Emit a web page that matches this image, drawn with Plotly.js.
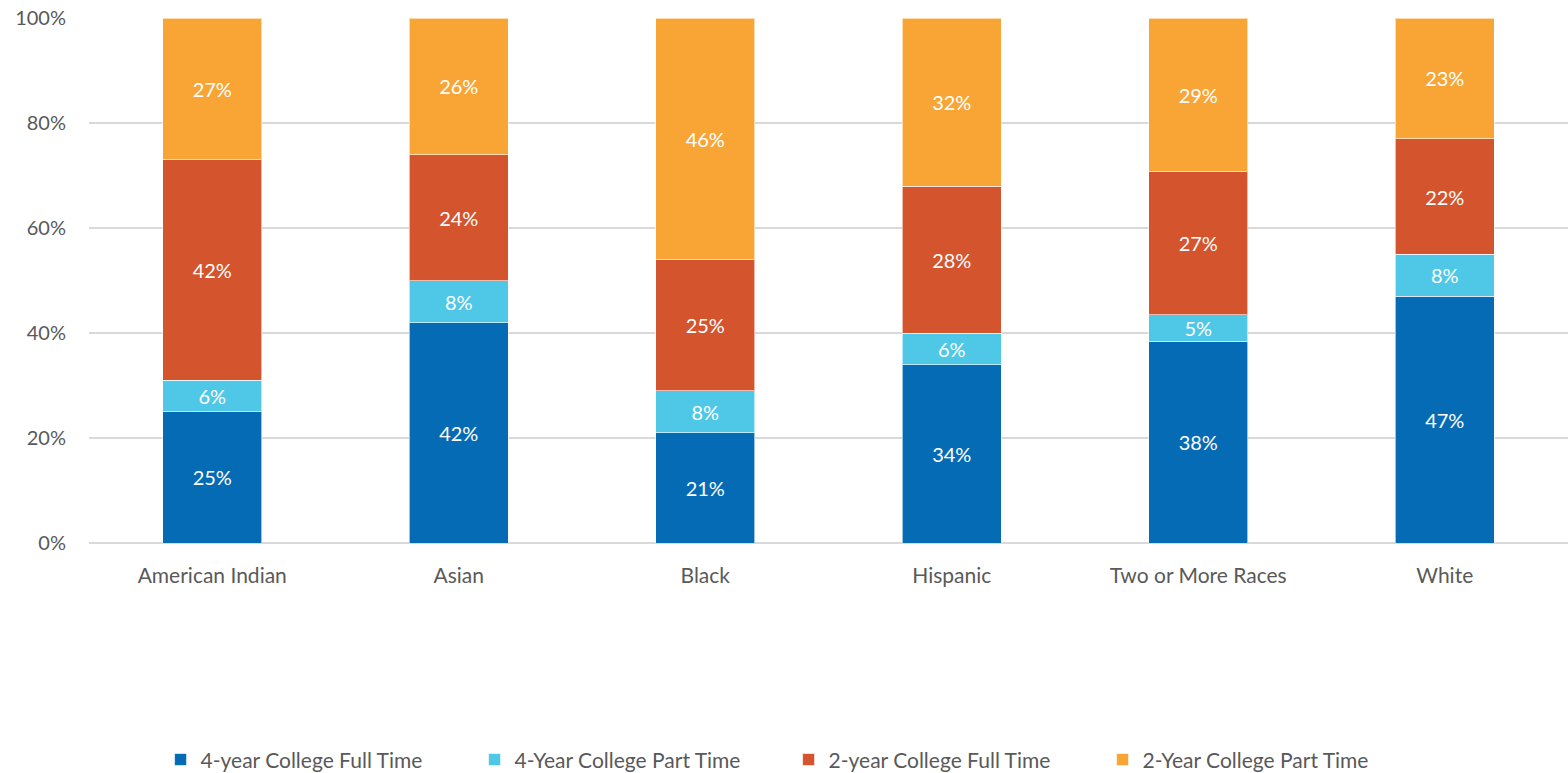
<!DOCTYPE html>
<html>
<head>
<meta charset="utf-8">
<script src="https://cdn.plot.ly/plotly-3.0.1.min.js"></script>
<style>
  html, body { margin: 0; padding: 0; background: #fff; }
  #chart { width: 1568px; height: 773px; }
</style>
</head>
<body>
<div id="chart"></div>
<script>
// Enrollment mix by race/ethnicity (percent of each group)
const groups = ["American Indian", "Asian", "Black", "Hispanic", "Two or More Races", "White"];
const fourYearFull = [25, 42, 21, 34, 38, 47];
const fourYearPart = [6, 8, 8, 6, 5, 8];
const twoYearFull = [42, 24, 25, 28, 27, 22];
const twoYearPart = [27, 26, 46, 32, 29, 23];
const seriesNames = ["4-year College Full Time", "4-Year College Part Time", "2-year College Full Time", "2-Year College Part Time"];
const seriesColors = ["#066BB5", "#4FC8E8", "#D4542E", "#F8A536"];
const yTicks = [0, 20, 40, 60, 80, 100];

const fontFamily = "Lato, 'Open Sans', sans-serif";
const seriesValues = [fourYearFull, fourYearPart, twoYearFull, twoYearPart];

const traces = seriesValues.map((vals, i) => ({
  type: "bar",
  name: seriesNames[i],
  x: groups,
  y: vals,
  text: vals.map(v => v + "%"),
  textposition: "inside",
  insidetextanchor: "middle",
  constraintext: "none",
  textangle: 0,
  textfont: { color: "#ffffff", size: 20, family: fontFamily },
  marker: { color: seriesColors[i], line: { color: "rgba(255,255,255,0.6)", width: 1 } },
  hoverinfo: "name+y"
}));

const layout = {
  width: 1568,
  height: 773,
  margin: { l: 89, r: 0, t: 18, b: 230, autoexpand: false },
  barmode: "stack",
  barnorm: "percent",
  bargap: 0.6,
  uniformtext: { mode: "show", minsize: 20 },
  paper_bgcolor: "#ffffff",
  plot_bgcolor: "#ffffff",
  font: { family: fontFamily, color: "#595959", size: 20 },
  showlegend: true,
  legend: {
    orientation: "h",
    x: 0.473, xanchor: "center",
    yref: "container",
    y: 0.017, yanchor: "middle",
    font: { size: 21, color: "#595959", family: fontFamily },
    traceorder: "normal",
    itemwidth: 30,
    entrywidth: 269,
    entrywidthmode: "pixels"
  },
  xaxis: {
    type: "category",
    showgrid: false,
    showline: false,
    ticks: "",
    tickfont: { size: 21, color: "#595959" },
    ticklabelstandoff: 18
  },
  yaxis: {
    range: [0, 100],
    tickvals: yTicks,
    ticktext: yTicks.map(v => v + "%"),
    showgrid: true,
    gridcolor: "#D9D9D9",
    gridwidth: 1.5,
    zeroline: true,
    zerolinecolor: "#D9D9D9",
    zerolinewidth: 1.5,
    showline: false,
    ticks: "",
    ticklabelstandoff: 22,
    tickfont: { size: 20, color: "#595959" }
  }
};

Plotly.newPlot("chart", traces, layout, { displayModeBar: false, staticPlot: true });
</script>
</body>
</html>
